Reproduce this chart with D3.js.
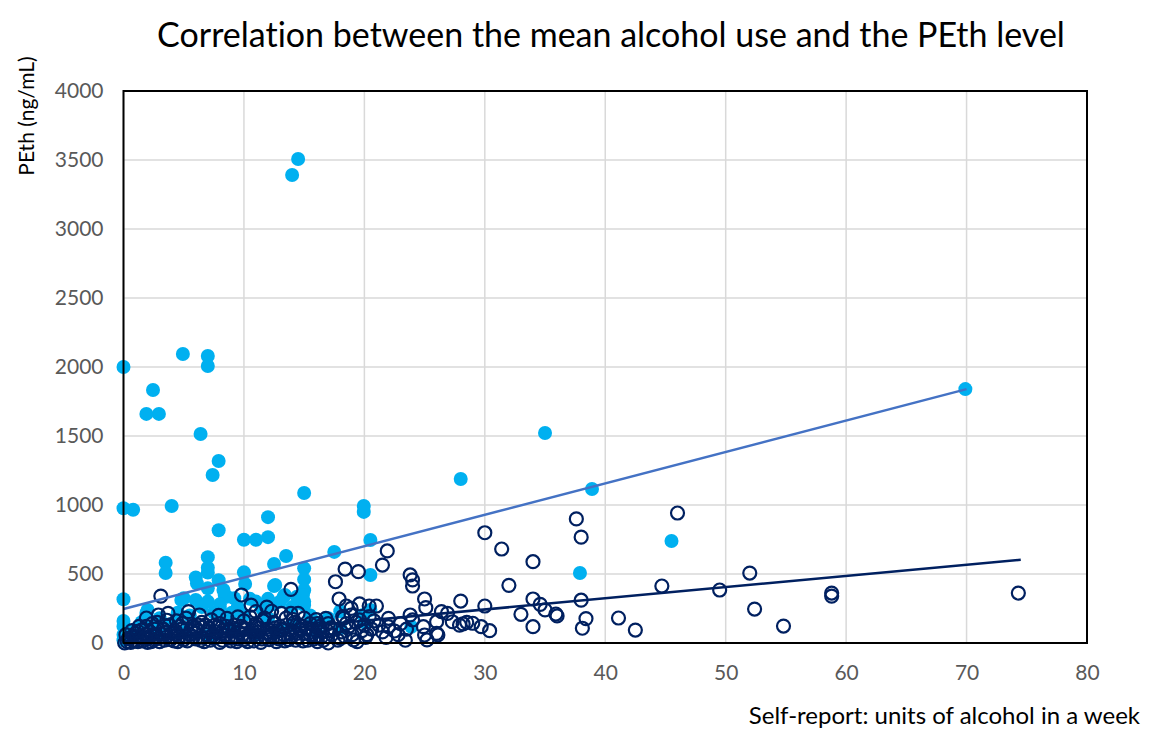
<!DOCTYPE html>
<html>
<head>
<meta charset="utf-8">
<script src="https://cdn.jsdelivr.net/npm/d3@7/dist/d3.min.js"></script>
<style>
  html, body { margin: 0; padding: 0; background: #fff; }
  svg { display: block; font-family: Lato, "Open Sans", sans-serif; font-variant-ligatures: none; }
</style>
</head>
<body>
<svg id="chart" width="1154" height="729"></svg>
<script>
// Axis ticks
const xTicks = [0, 10, 20, 30, 40, 50, 60, 70, 80];
const yTicks = [0, 500, 1000, 1500, 2000, 2500, 3000, 3500, 4000];

// Filled series: [units per week, PEth ng/mL]
const filledPoints = [
  [0,2000],[0,976],[0.8,966],[0,317],[0,160],[0,120],[0,60],[0,20],
  [1.9,1660],[2.45,1833],[2.94,1660],[4.0,993],[4.93,2094],[6.4,1514],[7.0,2080],[7.0,2007],
  [7.9,1319],[7.4,1217],[7.9,817],[14.0,3391],[14.5,3507],[15.0,1087],[19.95,993],[19.95,950],
  [20.5,746],[20.5,493],[28,1188],[35,1522],[38.9,1116],[45.5,739],[37.9,507],[69.9,1840],
  [17.5,660],[12,912],[12,767],[11,748],[10,748],[10,512],[10.1,428],[7,622],[7,545],[7,510],
  [3.5,582],[3.5,507],[6,475],[7.9,455],[12.5,572],[12.5,413],[13.5,630],[15,541],[15,461],
  [15,382],[7,396],[8.6,336],[5,324],[6,312],[2,239],[13.4,348],[14.4,336],[12.6,420],[8.4,348],
  [19.9,203],[23.9,118],[18,106],[8.3,384],[9.2,324],[13.3,336],[14.9,348],[12.1,275],[15,275],
  [6.1,432],[4.8,312],[1.9,217],
  [1,100],[1.5,150],[2.5,120],[3,180],[4,140],[4.5,220],[5.5,200],[6.5,260],[7,300],[7.5,220],
  [8,250],[8.5,180],[9,220],[9.5,260],[10,200],[11,300],[11.5,250],[12,180],[12.5,280],[13,300],
  [14,260],[15,300],[15.5,200],[16,150],[17,180],[18,230],[20,150],[20.5,240],[5,80],[9,100],
  [13,90],[3,60],[7,50],[11,60],[16,80],[14,130],[10.5,320],[12,320],[8,280]
];

// Open series: [units per week, PEth ng/mL]
const openPoints = [
  [0.3,10],[0.5,30],[0.6,5],[0.8,50],[1,20],[1,70],[1.2,10],[1.4,40],[1.5,94],[1.6,15],[1.8,60],
  [2,30],[2,5],[0.4,34],[1.9,120],[1.9,181],
  [2.2,80],[2.5,20],[2.7,50],[2.9,203],[3,10],[3.1,340],[3.3,100],[3.5,40],[3.7,215],[3.8,130],
  [4,70],[4.2,15],[4.4,160],[4.6,45],[4.8,100],[5,25],[5.2,180],[5.4,227],[5.5,60],[5.7,120],
  [2.4,140],[3.6,165],[4.9,140],
  [6,30],[6.1,90],[6.3,203],[6.5,150],[6.7,10],[6.9,60],[7.1,110],[7.3,167],[7.5,35],[7.7,80],
  [8,140],[8.2,20],[8.4,55],[8.6,179],[8.8,100],[9,40],[9.2,130],[9.4,10],[9.6,75],[9.8,348],
  [10,160],[10,25],[5.8,45],[7.9,200],[9.5,190],[6.8,130],[8.5,120],
  [10.2,100],[10.4,55],[10.6,275],[10.8,15],[11,227],[11,140],[11.2,80],[11.5,30],[11.7,180],
  [12,100],[12.2,50],[12.5,150],[12.7,10],[13,120],[13.1,215],[13.3,60],[13.5,180],[13.7,25],
  [13.9,215],[13.9,389],[14,90],[14.2,150],[14.5,215],[14.5,40],[14.8,120],[15,70],[15,180],
  [12.3,230],[10.5,190],[11.9,260],
  [15.3,20],[15.5,140],[15.7,100],[16,170],[16,50],[16.3,120],[16.5,80],[16.8,179],[17,0],
  [17,140],[17.3,60],[17.6,444],[17.9,319],[18,34],[18.2,191],[18.4,46],[18.4,536],[18.5,268],
  [18.7,120],[18.9,203],[18.9,251],[19.1,22],[19.3,150],[19.5,517],[19.6,283],[19.6,167],
  [19.8,90],[20,130],[20.2,60],[20.4,268],[20.4,191],[21,268],[21.5,565],[21.9,667],[16.1,140],
  [17.5,100],
  [21.2,130],[21.5,80],[22,179],[22,118],[22.5,87],[23,140],[23.5,100],[23.8,493],[24,457],
  [24,413],[23.8,203],[24,167],[24.9,118],[25,58],[25,319],[25.1,256],[25.2,22],[26.1,58],
  [26.4,227],[26.9,215],[27.3,154],[28.2,138],[29,143],[29.7,118],[30.4,89],[26,154],[26,70],
  [28,304],[30,268],[27.9,130],[28.5,150],
  [30,799],[31.4,681],[32,418],[33,208],[34,589],[34,319],[34,118],[34.6,280],[35,240],[35.9,210],
  [36,196],[37.6,899],[38,767],[38,310],[38.4,177],[38.1,107],[41.1,181],[42.5,94],[44.7,413],
  [46,942],[49.5,384],[52,507],[52.4,246],[54.8,123],[58.8,362],[58.8,340],[74.3,362],
  [0.2,60],[0.7,90],[1.3,120],[2.1,45],[2.6,100],[3.2,65],[3.9,25],[4.3,90],[5.1,50],[5.6,95],
  [6.2,130],[6.6,40],[7.2,20],[7.8,115],[8.1,70],[8.7,35],[9.1,85],[9.7,120],[10.1,45],[10.7,90],
  [11.3,110],[11.9,40],[12.4,75],[12.9,30],[13.2,100],[13.8,70],[14.3,20],[14.7,95],[15.2,110],
  [15.8,30],[16.6,20],[17.2,110],[18.1,80],[19,60],[20.6,100],[21.8,40],[2.8,150],[4.7,120],
  [9.9,60],[11.6,160],[14.1,170],[16.9,90],
  [0.1,0],[0.9,15],[1.1,45],[1.7,35],[2.3,10],[2.4,60],[3.4,20],[3.5,80],[4.1,45],[4.5,10],
  [5.3,15],[5.9,70],[6.4,20],[7,85],[7.4,55],[8,5],[8.3,95],[8.9,15],[9.3,50],[9.9,100],
  [10.3,10],[10.9,60],[11.4,5],[11.8,75],[12.1,25],[12.6,110],[13,50],[13.4,15],[13.9,45],
  [14.4,70],[14.9,15],[15.5,60],[16.1,10],[16.4,40],[17.8,20],[18.5,140],[19.4,10],[20.8,160],
  [1.2,85],[2.9,35],[4.4,60],[6,110],[7.6,130],[9.5,30],[10.9,120],[12.8,90],[14.6,130],[16.2,100],
  [18.3,180],[20.1,40],[22.8,60],[23.4,20]
];

// Linear trend lines: [intercept, slope, x start, x end]
const filledTrend = [246, 22.77, 0, 70];
const openTrend = [0, 8.1, 0, 74.5];

const svg = d3.select("#chart");
const W = 1154, H = 729;
const margin = { left: 123.5, right: W - 1087, top: 91, bottom: H - 643 };

const x = d3.scaleLinear().domain([0, 80]).range([margin.left, W - margin.right]);
const y = d3.scaleLinear().domain([0, 4000]).range([H - margin.bottom, margin.top]);

// Gridlines
const grid = svg.append("g");
grid.selectAll("line.h").data(yTicks).join("line")
  .attr("x1", x(0)).attr("x2", x(80))
  .attr("y1", d => y(d)).attr("y2", d => y(d))
  .attr("stroke", "#d9d9d9").attr("stroke-width", 1.5);
grid.selectAll("line.v").data(xTicks).join("line")
  .attr("y1", y(0)).attr("y2", y(4000))
  .attr("x1", d => x(d)).attr("x2", d => x(d))
  .attr("stroke", "#d9d9d9").attr("stroke-width", 1.5);

// Axes (labels only)
const xAxis = svg.append("g")
  .attr("transform", `translate(0,${y(0)})`)
  .call(d3.axisBottom(x).tickValues(xTicks).tickFormat(d3.format("d")).tickSize(0).tickPadding(22));
const yAxis = svg.append("g")
  .attr("transform", `translate(${x(0)},0)`)
  .call(d3.axisLeft(y).tickValues(yTicks).tickFormat(d3.format("d")).tickSize(0).tickPadding(20));
[xAxis, yAxis].forEach(a => {
  a.select(".domain").remove();
  a.selectAll("text").attr("font-size", 21).attr("fill", "#595959")
    .attr("font-family", "Lato, 'Open Sans', sans-serif");
});

// Filled points
svg.append("g").selectAll("circle").data(filledPoints).join("circle")
  .attr("cx", d => x(d[0])).attr("cy", d => y(d[1]))
  .attr("r", 7).attr("fill", "#00b0f0");

// Open points
svg.append("g").selectAll("circle").data(openPoints).join("circle")
  .attr("cx", d => x(d[0])).attr("cy", d => y(d[1]))
  .attr("r", 6.5).attr("fill", "none")
  .attr("stroke", "#002060").attr("stroke-width", 2.2);

// Trend lines
function trend(t, color) {
  svg.append("line")
    .attr("x1", x(t[2])).attr("y1", y(t[0] + t[1] * t[2]))
    .attr("x2", x(t[3])).attr("y2", y(t[0] + t[1] * t[3]))
    .attr("stroke", color).attr("stroke-width", 2.5);
}
trend(filledTrend, "#4472c4");
trend(openTrend, "#002060");

// Plot frame
svg.append("rect")
  .attr("x", x(0)).attr("y", y(4000))
  .attr("width", x(80) - x(0)).attr("height", y(0) - y(4000))
  .attr("fill", "none").attr("stroke", "#000").attr("stroke-width", 2);

// Titles
svg.append("text").attr("x", 611).attr("y", 47)
  .attr("text-anchor", "middle").attr("font-size", 34).attr("fill", "#000")
  .text("Correlation between the mean alcohol use and the PEth level");
svg.append("text").attr("x", 1140).attr("y", 724)
  .attr("text-anchor", "end").attr("font-size", 24).attr("fill", "#000")
  .text("Self-report: units of alcohol in a week");
svg.append("text")
  .attr("transform", "translate(34,116) rotate(-90)")
  .attr("text-anchor", "middle").attr("font-size", 21).attr("fill", "#000")
  .text("PEth (ng/mL)");
</script>
</body>
</html>
